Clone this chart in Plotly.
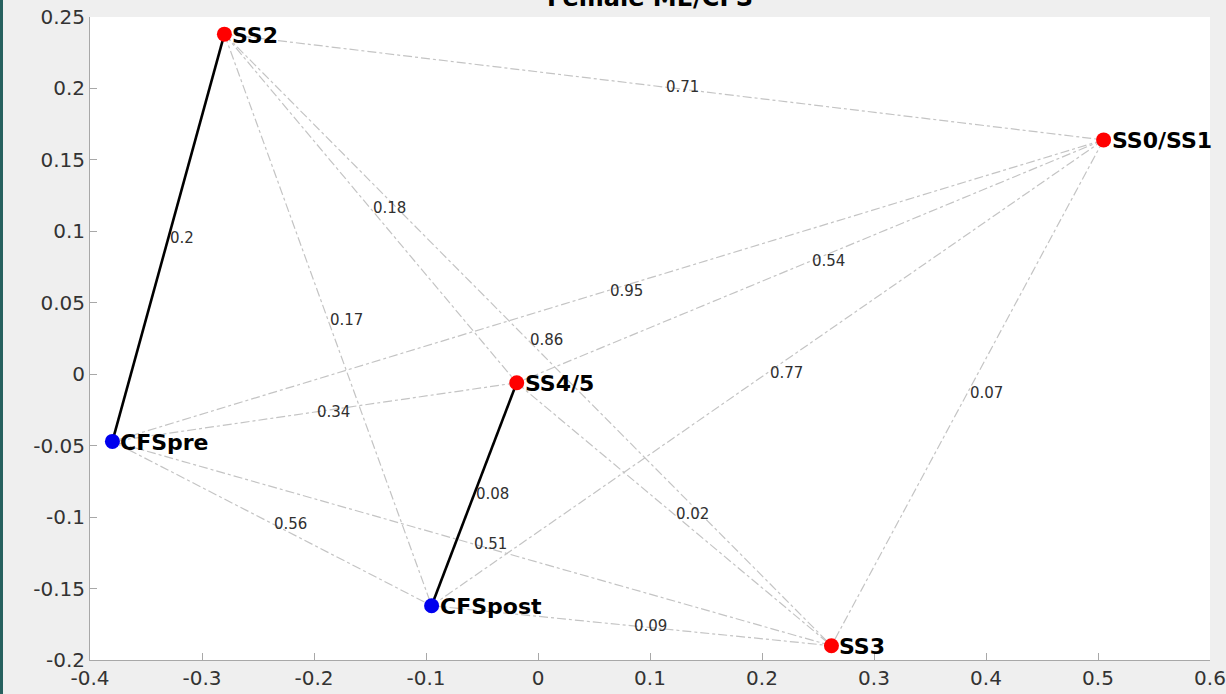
import plotly.graph_objects as go

# ---- data ----
node_names = ["SS2", "SS0/SS1", "SS4/5", "CFSpre", "CFSpost", "SS3"]
node_x = [-0.28, 0.505, -0.019, -0.38, -0.095, 0.262]
node_y = [0.238, 0.164, -0.006, -0.047, -0.162, -0.190]
node_color = ["#ff0000", "#ff0000", "#ff0000", "#0000ee", "#0000ee", "#ff0000"]

edge_from = ["SS2", "SS2", "SS2", "SS2", "SS2",
             "SS0/SS1", "SS0/SS1", "SS0/SS1", "SS0/SS1",
             "SS4/5", "SS4/5", "SS4/5",
             "CFSpre", "CFSpre", "CFSpost"]
edge_to = ["SS0/SS1", "SS4/5", "CFSpre", "CFSpost", "SS3",
           "CFSpre", "SS4/5", "CFSpost", "SS3",
           "CFSpre", "CFSpost", "SS3",
           "CFSpost", "SS3", "SS3"]
edge_values = [0.71, 0.18, 0.2, 0.17, 0.86,
               0.95, 0.54, 0.77, 0.07,
               0.34, 0.08, 0.02,
               0.56, 0.51, 0.09]
edge_solid = [False, False, True, False, False,
              False, False, False, False,
              False, True, False,
              False, False, False]

x_ticks = [-0.4, -0.3, -0.2, -0.1, 0, 0.1, 0.2, 0.3, 0.4, 0.5, 0.6]
y_ticks = [-0.2, -0.15, -0.1, -0.05, 0, 0.05, 0.1, 0.15, 0.2, 0.25]

title_text = "Female ME/CFS"

# ---- figure ----
pos = {n: (x, y) for n, x, y in zip(node_names, node_x, node_y)}
fig = go.Figure()

# grey dash-dot edges first, then solid black
order = [i for i in range(len(edge_from)) if not edge_solid[i]] + \
        [i for i in range(len(edge_from)) if edge_solid[i]]
for i in order:
    a, b = pos[edge_from[i]], pos[edge_to[i]]
    if edge_solid[i]:
        line = dict(color="black", width=2.6, dash="solid")
    else:
        line = dict(color="#c4c4c4", width=1.2, dash="dashdot")
    fig.add_trace(go.Scatter(x=[a[0], b[0]], y=[a[1], b[1]], mode="lines",
                             line=line, hoverinfo="skip", showlegend=False))

annotations = []
for i in range(len(edge_from)):
    a, b = pos[edge_from[i]], pos[edge_to[i]]
    annotations.append(dict(
        x=(a[0] + b[0]) / 2, y=(a[1] + b[1]) / 2, xref="x", yref="y",
        text=f"{edge_values[i]:g}", showarrow=False, xanchor="left",
        yanchor="middle", xshift=0,
        font=dict(family="DejaVu Sans", size=15, color="#303030")))

fig.add_trace(go.Scatter(x=node_x, y=node_y, mode="markers",
                         marker=dict(size=15, color=node_color, line=dict(width=0)),
                         hoverinfo="text", text=node_names, showlegend=False))

for n, x, y in zip(node_names, node_x, node_y):
    annotations.append(dict(
        x=x, y=y, xref="x", yref="y", text=f"<b>{n}</b>", showarrow=False,
        xanchor="left", yanchor="middle", xshift=6, yshift=-1,
        font=dict(family="DejaVu Sans", size=22, color="black")))

annotations.append(dict(
    x=0.5, y=1, xref="paper", yref="paper", text=f"<b>{title_text}</b>",
    showarrow=False, xanchor="center", yanchor="bottom", yshift=3,
    font=dict(family="DejaVu Sans", size=24, color="black")))

axis_common = dict(showgrid=False, zeroline=False, showline=True,
                   linecolor="#a8a8a8", linewidth=1, ticks="inside",
                   ticklen=7, tickcolor="#a8a8a8", mirror=False,
                   tickfont=dict(family="DejaVu Sans", size=20, color="#333333"))

fig.update_layout(
    width=1226, height=694,
    margin=dict(l=90, r=16, t=17, b=34, autoexpand=False),
    paper_bgcolor="#efefef", plot_bgcolor="white",
    xaxis=dict(range=[-0.4, 0.6], tickvals=x_ticks,
               ticktext=[f"{v:g}" for v in x_ticks], **axis_common),
    yaxis=dict(range=[-0.2, 0.25], tickvals=y_ticks,
               ticktext=[f"{v:g}" for v in y_ticks], **axis_common),
    annotations=annotations,
    shapes=[dict(type="rect", xref="paper", yref="paper",
                 x0=-90 / 1120, x1=-87 / 1120, y0=-0.2, y1=1.2,
                 fillcolor="#27615f", line=dict(width=0), layer="above")],
)

fig.write_html("out.html",
               config={"displayModeBar": False},
               post_script="document.body.style.margin='0';"
                           "document.body.style.overflow='hidden';")
